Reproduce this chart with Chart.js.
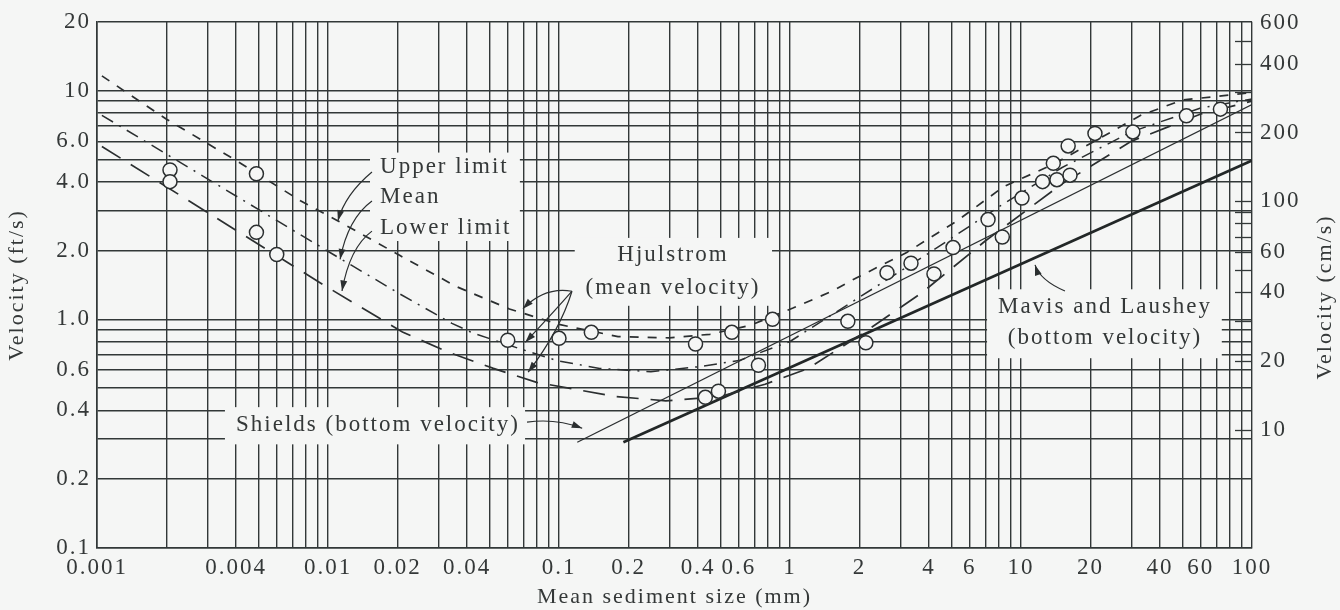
<!DOCTYPE html>
<html><head><meta charset="utf-8">
<script src="https://cdn.jsdelivr.net/npm/chart.js@4.4.1/dist/chart.umd.min.js"></script>
<style>html,body{margin:0;padding:0;background:#f5f6f5}#wrap{width:1340px;height:610px}</style>
</head><body><div id="wrap"><canvas id="c" width="1340" height="610"></canvas></div>
<script>
// ---- data ----
const upperX = [0.00105, 0.002, 0.004, 0.0076, 0.011, 0.0205, 0.036, 0.061, 0.1, 0.18, 0.3, 0.45, 0.67, 1.03, 1.53, 1.87, 3.2, 5.3, 8.4, 14, 33, 50, 100];
const upperY = [11.6, 7.5, 4.95, 3.3, 2.7, 1.9, 1.39, 1.11, 0.95, 0.84, 0.83, 0.86, 0.94, 1.12, 1.33, 1.49, 1.96, 2.7, 3.8, 4.8, 7.8, 9.1, 9.8];
const meanX = [0.00105, 0.0102, 0.0205, 0.0344, 0.0425, 0.066, 0.098, 0.15, 0.25, 0.4, 0.6, 1, 2, 4, 8, 15, 30, 60, 100];
const meanY = [7.8, 1.96, 1.29, 0.96, 0.87, 0.75, 0.66, 0.61, 0.59, 0.62, 0.66, 0.8, 1.25, 1.95, 3.1, 4.6, 6.6, 8.4, 9.2];
const lowerX = [0.00105, 0.0095, 0.021, 0.033, 0.052, 0.08, 0.175, 0.29, 0.5, 0.78, 1.2, 2, 3.7, 7, 15, 30, 60, 100];
const lowerY = [5.7, 1.42, 0.88, 0.72, 0.61, 0.53, 0.46, 0.44, 0.46, 0.52, 0.61, 0.85, 1.3, 2.2, 3.9, 6.0, 7.9, 9.0];
const shieldsX = [0.12, 100];
const shieldsY = [0.29, 8.7];
const mavisX = [0.19, 100];
const mavisY = [0.29, 4.95];
const obsX = [0.00207, 0.00207, 0.0049, 0.0049, 0.006, 0.06, 0.1, 0.138, 0.39, 0.43, 0.49, 0.56, 0.73, 0.84, 1.78, 2.13, 2.63, 3.34, 4.2, 5.08, 7.2, 8.3, 10.1, 12.4, 13.8, 14.3, 16.3, 16, 20.9, 30.5, 52, 73];
const obsY = [4.5, 4.0, 4.33, 2.4, 1.92, 0.81, 0.826, 0.877, 0.78, 0.456, 0.485, 0.877, 0.63, 1.0, 0.98, 0.79, 1.6, 1.76, 1.58, 2.06, 2.73, 2.29, 3.39, 4.0, 4.81, 4.08, 4.27, 5.73, 6.5, 6.6, 7.76, 8.3];

const xTickValues = [0.001, 0.004, 0.01, 0.02, 0.04, 0.1, 0.2, 0.4, 0.6, 1, 2, 4, 6, 10, 20, 40, 60, 100];
const xTickText = ['0.001', '0.004', '0.01', '0.02', '0.04', '0.1', '0.2', '0.4', '0.6', '1', '2', '4', '6', '10', '20', '40', '60', '100'];
const yTickValues = [0.1, 0.2, 0.4, 0.6, 1, 2, 4, 6, 10, 20];
const yTickText = ['0.1', '0.2', '0.4', '0.6', '1.0', '2.0', '4.0', '6.0', '10', '20'];
const cmTickValues = [10, 20, 40, 60, 100, 200, 400, 600];
const cmMinorTicks = [10, 20, 30, 40, 50, 60, 70, 80, 90, 100, 200, 300, 400, 500];
const FT_TO_CM = 30.48;

// annotation texts (data coordinates)
const labels = [
  {t: 'Upper limit', x: 0.0168, y: 4.62, align: 'left'},
  {t: 'Mean', x: 0.0168, y: 3.42, align: 'left'},
  {t: 'Lower limit', x: 0.0168, y: 2.5, align: 'left'},
  {t: 'Hjulstrom', x: 0.3115, y: 1.92, align: 'center'},
  {t: '(mean velocity)', x: 0.3115, y: 1.37, align: 'center'},
  {t: 'Shields (bottom velocity)', x: 0.0040, y: 0.344, align: 'left'},
  {t: 'Mavis and Laushey', x: 23.1, y: 1.135, align: 'center'},
  {t: '(bottom velocity)', x: 23.1, y: 0.826, align: 'center'}
];
const boxes = [
  [0.0152, 0.0677, 5.36, 2.2],
  [0.117, 0.836, 2.27, 1.146],
  [0.00358, 0.0713, 0.413, 0.284],
  [7.13, 74, 1.353, 0.676]
];
// arrows: start, control, tip (data coords)
const arrows = [
  [[0.0155, 4.41], [0.01186, 3.52], [0.01104, 2.70]],
  [[0.0155, 3.29], [0.01222, 2.76], [0.01128, 1.83]],
  [[0.0155, 2.43], [0.0124, 2.06], [0.0115, 1.33]],
  [[0.1138, 1.327], [0.0869, 1.393], [0.0698, 1.113]],
  [[0.1138, 1.327], [0.0962, 1.092], [0.0715, 0.793]],
  [[0.1138, 1.327], [0.101, 0.895], [0.0735, 0.587]],
  [[0.0727, 0.355], [0.0962, 0.37], [0.126, 0.334]],
  [[15.5, 1.33], [12.1, 1.48], [11.5, 1.73]]
];

function pts(xs, ys) { return xs.map((x, i) => ({x: x, y: ys[i]})); }
function fullLogTicks(min, max) {
  const out = [];
  for (let e = Math.floor(Math.log10(min)); e <= Math.ceil(Math.log10(max)); e++) {
    for (let m = 1; m <= 9; m++) {
      const v = parseFloat((m * Math.pow(10, e)).toPrecision(6));
      if (v >= min * 0.999 && v <= max * 1.001) out.push(v);
    }
  }
  return out;
}
function near(a, b) { return Math.abs(a - b) / b < 1e-6; }

const INK = '#2b2f30';
const TXT = '#343838';
const SERIF = '"Liberation Serif", "DejaVu Serif", serif';
const GRID = {color: '#323838', lineWidth: 1.4, drawTicks: false};
const SPACING = '2px';

const decor = {
  id: 'decor',
  beforeUpdate(chart) { chart.ctx.letterSpacing = SPACING; },
  beforeDraw(chart) {
    const c = chart.ctx; c.letterSpacing = SPACING;
    c.save(); c.fillStyle = '#f5f6f5'; c.fillRect(0, 0, chart.width, chart.height); c.restore();
  },
  beforeDatasetsDraw(chart) {
    const c = chart.ctx, xs = chart.scales.x, ys = chart.scales.y;
    c.save(); c.fillStyle = '#f5f6f5';
    boxes.forEach(b => {
      const x0 = xs.getPixelForValue(b[0]), x1 = xs.getPixelForValue(b[1]);
      const y0 = ys.getPixelForValue(b[2]), y1 = ys.getPixelForValue(b[3]);
      c.fillRect(x0, y0, x1 - x0, y1 - y0);
    });
    // right-hand cm graduation strip
    const y1s = chart.scales.y1, r = chart.chartArea.right;
    c.strokeStyle = '#323838'; c.lineWidth = 1.3;
    cmMinorTicks.forEach(v => {
      const py = Math.round(y1s.getPixelForValue(v)) + 0.5;
      c.beginPath(); c.moveTo(r - 17, py); c.lineTo(r, py); c.stroke();
    });
    c.restore();
  },
  afterDatasetsDraw(chart) {
    const c = chart.ctx, xs = chart.scales.x, ys = chart.scales.y;
    c.save();
    c.letterSpacing = SPACING;
    c.fillStyle = TXT; c.font = '23px ' + SERIF; c.textBaseline = 'middle';
    labels.forEach(l => {
      c.textAlign = l.align;
      c.fillText(l.t, xs.getPixelForValue(l.x), ys.getPixelForValue(l.y));
    });
    c.strokeStyle = INK; c.fillStyle = INK; c.lineWidth = 1.2;
    arrows.forEach(a => {
      const p = a.map(q => [xs.getPixelForValue(q[0]), ys.getPixelForValue(q[1])]);
      c.beginPath(); c.moveTo(p[0][0], p[0][1]);
      c.quadraticCurveTo(p[1][0], p[1][1], p[2][0], p[2][1]); c.stroke();
      const ang = Math.atan2(p[2][1] - p[1][1], p[2][0] - p[1][0]);
      const L = 11, W = 0.32;
      c.beginPath(); c.moveTo(p[2][0], p[2][1]);
      c.lineTo(p[2][0] - L * Math.cos(ang - W), p[2][1] - L * Math.sin(ang - W));
      c.lineTo(p[2][0] - L * Math.cos(ang + W), p[2][1] - L * Math.sin(ang + W));
      c.closePath(); c.fill();
    });
    c.restore();
  },
  afterDraw(chart) {
    // right axis title, reading bottom-to-top as in the reference
    const c = chart.ctx, y1s = chart.scales.y1;
    c.save();
    c.letterSpacing = SPACING;
    c.fillStyle = TXT; c.font = '22px ' + SERIF; c.textAlign = 'center'; c.textBaseline = 'middle';
    c.translate(1325, (y1s.top + y1s.bottom) / 2 + 12);
    c.rotate(-Math.PI / 2);
    c.fillText('Velocity (cm/s)', 0, 0);
    c.restore();
  }
};

new Chart(document.getElementById('c'), {
  type: 'scatter',
  data: {
    datasets: [
      {label: 'Observed', data: pts(obsX, obsY), showLine: false, pointStyle: 'circle', pointRadius: 7,
       pointBackgroundColor: '#f5f6f5', pointBorderColor: INK, pointBorderWidth: 1.5},
      {label: 'Upper limit', data: pts(upperX, upperY), showLine: true, pointRadius: 0, borderColor: INK,
       borderWidth: 1.7, borderDash: [9, 9], tension: 0},
      {label: 'Mean', data: pts(meanX, meanY), showLine: true, pointRadius: 0, borderColor: INK,
       borderWidth: 1.5, borderDash: [13, 7, 2, 7], tension: 0},
      {label: 'Lower limit', data: pts(lowerX, lowerY), showLine: true, pointRadius: 0, borderColor: INK,
       borderWidth: 1.7, borderDash: [22, 12], tension: 0},
      {label: 'Shields (bottom velocity)', data: pts(shieldsX, shieldsY), showLine: true, pointRadius: 0,
       borderColor: INK, borderWidth: 1.3},
      {label: 'Mavis and Laushey (bottom velocity)', data: pts(mavisX, mavisY), showLine: true, pointRadius: 0,
       borderColor: '#222727', borderWidth: 2.8}
    ]
  },
  options: {
    responsive: false, animation: false,
    layout: {padding: {left: 0, right: 0, top: 17, bottom: 0}},
    plugins: {legend: {display: false}, tooltip: {enabled: false}},
    scales: {
      x: {
        type: 'logarithmic', min: 0.001, max: 100, position: 'bottom',
        afterBuildTicks: s => { s.ticks = fullLogTicks(0.001, 100).map(v => ({value: v})); },
        afterFit: s => { s.height = 62; },
        grid: GRID, border: {color: '#323838', width: 1.6},
        ticks: {autoSkip: false, maxRotation: 0, padding: 6, color: TXT, font: {family: SERIF, size: 23},
          callback: v => { const i = xTickValues.findIndex(t => near(v, t)); return i >= 0 ? xTickText[i] : ''; }},
        title: {display: true, text: 'Mean sediment size (mm)', color: TXT, font: {family: SERIF, size: 22},
          padding: {top: 0, bottom: 0}}
      },
      y: {
        type: 'logarithmic', min: 0.1, max: 20, position: 'left',
        afterBuildTicks: s => { s.ticks = fullLogTicks(0.1, 20).map(v => ({value: v})); },
        afterFit: s => { s.width = 97; },
        grid: GRID, border: {color: '#323838', width: 1.6},
        ticks: {autoSkip: false, padding: 6, color: TXT, font: {family: SERIF, size: 23},
          callback: v => { const i = yTickValues.findIndex(t => near(v, t)); return i >= 0 ? yTickText[i] : ''; }},
        title: {display: true, text: 'Velocity (ft/s)', color: TXT, font: {family: SERIF, size: 22},
          padding: {top: 4, bottom: 0}}
      },
      y1: {
        type: 'logarithmic', min: 0.1 * FT_TO_CM, max: 20 * FT_TO_CM, position: 'right',
        afterBuildTicks: s => { s.ticks = cmTickValues.map(v => ({value: v})); },
        afterFit: s => { s.width = 88; },
        grid: {drawOnChartArea: false, drawTicks: false}, border: {display: false},
        ticks: {autoSkip: false, padding: 8, color: TXT, font: {family: SERIF, size: 23},
          callback: v => String(v)},
        title: {display: false}
      }
    }
  },
  plugins: [decor]
});
</script></body></html>
